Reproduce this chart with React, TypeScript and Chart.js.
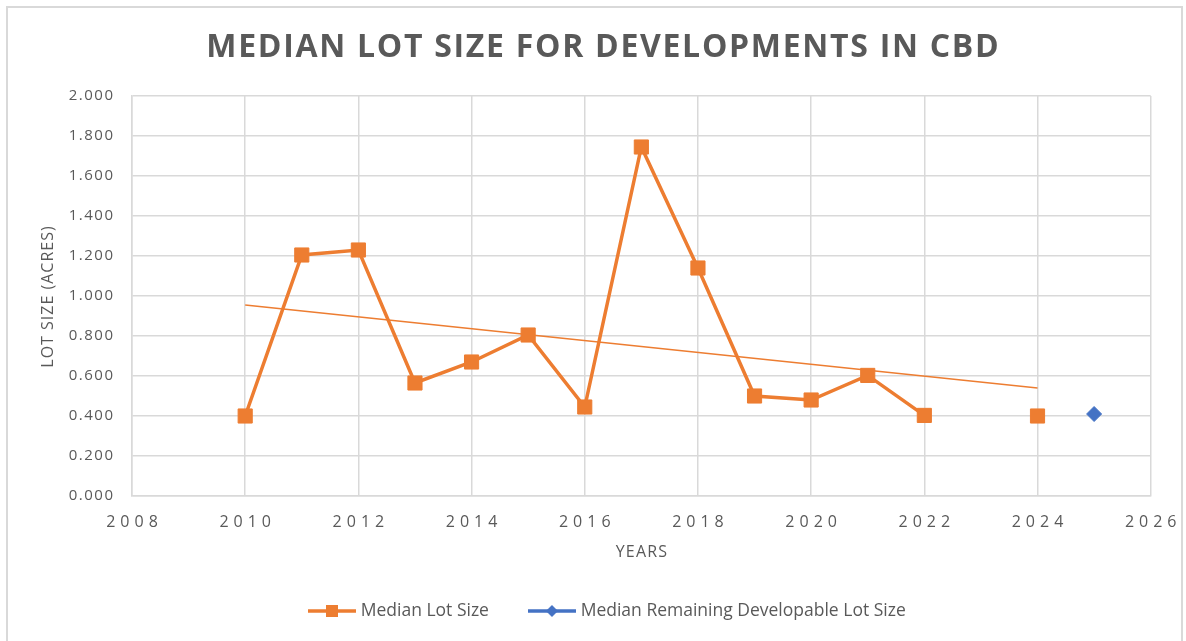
import React, { useEffect, useRef } from 'react';
import { Chart, registerables } from 'chart.js';

Chart.register(...registerables);

const TITLE = 'MEDIAN LOT SIZE FOR DEVELOPMENTS IN CBD';
const X_TITLE = 'YEARS';
const Y_TITLE = 'LOT SIZE (ACRES)';
const SERIES_MAIN = 'Median Lot Size';
const SERIES_REMAINING = 'Median Remaining Developable Lot Size';

const YEARS = [2010, 2011, 2012, 2013, 2014, 2015, 2016, 2017, 2018, 2019, 2020, 2021, 2022, 2023, 2024];
const MEDIAN_LOT_SIZE: (number | null)[] = [0.4, 1.205, 1.23, 0.565, 0.67, 0.805, 0.445, 1.745, 1.14, 0.5, 0.48, 0.603, 0.403, null, 0.4];
const REMAINING_YEARS = [2025];
const REMAINING_LOT_SIZE = [0.41];
const TREND_YEARS = [2010, 2024];
const TREND_VALUES = [0.955, 0.54];
const X_TICKS = [2008, 2010, 2012, 2014, 2016, 2018, 2020, 2022, 2024, 2026];
const Y_TICKS = [0, 0.2, 0.4, 0.6, 0.8, 1.0, 1.2, 1.4, 1.6, 1.8, 2.0];

const ORANGE = '#ED7D31';
const BLUE = '#4472C4';
const TEXT = '#595959';
const GRID = '#d9d9d9';
const FONT = "'Open Sans', 'DejaVu Sans', sans-serif";

function makeIcon(color: string, shape: 'rect' | 'diamond') {
  const c = document.createElement('canvas');
  c.width = 48;
  c.height = 16;
  const g = c.getContext('2d')!;
  g.strokeStyle = color;
  g.lineWidth = 3.5;
  g.beginPath();
  g.moveTo(0, 8);
  g.lineTo(48, 8);
  g.stroke();
  g.fillStyle = color;
  if (shape === 'rect') {
    g.fillRect(18, 2, 12, 12);
  } else {
    g.beginPath();
    g.moveTo(24, 2);
    g.lineTo(30, 8);
    g.lineTo(24, 14);
    g.lineTo(18, 8);
    g.closePath();
    g.fill();
  }
  return c;
}

function patch(obj: any, method: string, spacing: string, offset?: (self: any) => [number, number]) {
  if (!obj || typeof obj[method] !== 'function' || obj['__patched_' + method]) return;
  const orig = obj[method];
  obj['__patched_' + method] = true;
  obj[method] = function (...args: any[]) {
    const c = this.ctx as any;
    c.save();
    try { c.letterSpacing = spacing; } catch (e) { /* ignore */ }
    const [dx, dy] = offset ? offset(this) : [0, 0];
    c.translate(dx, dy);
    let r;
    try { r = orig.apply(this, args); } finally { c.restore(); }
    return r;
  };
}

const LEGEND_TEXT_Y = 611;
const LEGEND_START_X = 312;
const TITLE_CENTER_X = 602.5;

const spacingPlugin = {
  id: 'excelLook',
  beforeUpdate(chart: any) {
    const sx = chart.scales?.x;
    const sy = chart.scales?.y;
    patch(sx, 'drawLabels', '5px', () => [2.5, 0]);
    patch(sy, 'drawLabels', '1.5px', () => [1.5, 0]);
    patch(sx, 'drawTitle', '1.2px', () => [0.6, 0]);
    patch(sy, 'drawTitle', '1px', () => [0, 0.5]);
    patch(chart.titleBlock, 'draw', '1.7px', (t: any) => [TITLE_CENTER_X - (t.left + t.right) / 2 + 0.85, 0]);
    const lg = chart.legend;
    if (lg && !lg.__patchedLegend) {
      lg.__patchedLegend = true;
      const of = lg.fit;
      lg.fit = function (...a: any[]) {
        of.apply(this, a);
        this.height = 48;
      };
      const od = lg.draw;
      lg.draw = function (...a: any[]) {
        const c = this.ctx;
        const savedTop = this.top;
        const savedBottom = this.bottom;
        const pad = this.options.labels.padding;
        const fs = this.options.labels.font.size;
        const hb = this.legendHitBoxes && this.legendHitBoxes[0];
        const dx = hb ? LEGEND_START_X - hb.left : 0;
        this.top = LEGEND_TEXT_Y - pad - fs / 2;
        this.bottom = this.chart.height;
        c.save();
        c.translate(dx, 0);
        try { od.apply(this, a); } finally {
          c.restore();
          this.top = savedTop;
          this.bottom = savedBottom;
        }
      };
    }
  },
};

export default function App() {
  const ref = useRef<HTMLCanvasElement | null>(null);

  useEffect(() => {
    if (!ref.current) return;
    const mainData = YEARS.map((x, i) => ({ x, y: MEDIAN_LOT_SIZE[i] }));
    const remData = REMAINING_YEARS.map((x, i) => ({ x, y: REMAINING_LOT_SIZE[i] }));
    const trendData = TREND_YEARS.map((x, i) => ({ x, y: TREND_VALUES[i] }));
    const iconMain = makeIcon(ORANGE, 'rect');
    const iconRem = makeIcon(BLUE, 'diamond');

    const chart = new Chart(ref.current, {
      type: 'line',
      data: {
        datasets: [
          {
            label: SERIES_MAIN,
            data: mainData as any,
            borderColor: ORANGE,
            backgroundColor: ORANGE,
            borderWidth: 3.5,
            pointStyle: 'rect',
            pointRadius: 10,
            pointBorderWidth: 1,
            pointBackgroundColor: ORANGE,
            pointBorderColor: ORANGE,
            spanGaps: false,
            tension: 0,
            order: 1,
          },
          {
            label: SERIES_REMAINING,
            data: remData as any,
            borderColor: BLUE,
            backgroundColor: BLUE,
            borderWidth: 3.5,
            pointStyle: 'rectRot',
            pointRadius: 7.5,
            pointBorderWidth: 1,
            pointBackgroundColor: BLUE,
            pointBorderColor: BLUE,
            order: 0,
          },
          {
            label: 'Linear (Median Lot Size)',
            data: trendData as any,
            borderColor: ORANGE,
            borderWidth: 1.5,
            pointRadius: 0,
            order: 2,
          },
        ],
      },
      options: {
        responsive: false,
        animation: false,
        events: [],
        layout: { padding: { top: 10, left: 0, right: 33, bottom: 0 } },
        plugins: {
          title: {
            display: true,
            text: TITLE,
            color: TEXT,
            font: { family: FONT, size: 32, weight: 'bold' },
            padding: { top: 19, bottom: 28.6 },
          },
          legend: {
            display: true,
            position: 'bottom',
            labels: {
              usePointStyle: true,
              pointStyleWidth: 40,
              padding: 43,
              color: TEXT,
              font: { family: FONT, size: 17.5 },
              generateLabels: () => [
                { text: SERIES_MAIN, pointStyle: iconMain as any, fillStyle: ORANGE, strokeStyle: ORANGE, lineWidth: 0, hidden: false, datasetIndex: 0, fontColor: TEXT } as any,
                { text: SERIES_REMAINING, pointStyle: iconRem as any, fillStyle: BLUE, strokeStyle: BLUE, lineWidth: 0, hidden: false, datasetIndex: 1, fontColor: TEXT } as any,
              ],
            },
          },
          tooltip: { enabled: false },
        },
        scales: {
          x: {
            type: 'linear',
            min: X_TICKS[0],
            max: X_TICKS[X_TICKS.length - 1],
            afterBuildTicks: (s: any) => { s.ticks = X_TICKS.map((v) => ({ value: v })); },
            afterFit: (s: any) => { s.height = 97; },
            grid: { color: GRID, lineWidth: 1.5, drawTicks: false },
            border: { color: GRID, width: 1.5 },
            ticks: {
              autoSkip: false,
              maxRotation: 0,
              padding: 17,
              color: TEXT,
              font: { family: FONT, size: 16 },
              callback: (v: any) => String(v),
            },
            title: {
              display: true,
              text: X_TITLE,
              color: TEXT,
              font: { family: FONT, size: 16 },
              padding: { top: 0, bottom: 31.4 },
            },
          },
          y: {
            type: 'linear',
            min: Y_TICKS[0],
            max: Y_TICKS[Y_TICKS.length - 1],
            afterBuildTicks: (s: any) => { s.ticks = Y_TICKS.map((v) => ({ value: v })); },
            afterFit: (s: any) => { s.width = 132; },
            grid: { color: GRID, lineWidth: 1.5, drawTicks: false },
            border: { color: GRID, width: 1.5 },
            ticks: {
              padding: 19,
              color: TEXT,
              font: { family: FONT, size: 15 },
              callback: (v: any) => Number(v).toFixed(3),
            },
            title: {
              display: true,
              text: Y_TITLE,
              color: TEXT,
              font: { family: FONT, size: 16 },
              padding: { top: 39, bottom: 0 },
            },
          },
        },
      },
      plugins: [spacingPlugin as any],
    });
    return () => chart.destroy();
  }, []);

  return (
    <div style={{ position: 'absolute', left: 0, top: 0, width: 1186, height: 641, background: '#fff', overflow: 'hidden' }}>
      <div
        style={{
          position: 'absolute',
          left: 6,
          top: 6,
          width: 1177,
          height: 660,
          border: '2px solid #d9d9d9',
          boxSizing: 'border-box',
        }}
      />
      <canvas ref={ref} width={1186} height={641} style={{ position: 'absolute', left: 0, top: 0, width: 1186, height: 641 }} />
    </div>
  );
}
